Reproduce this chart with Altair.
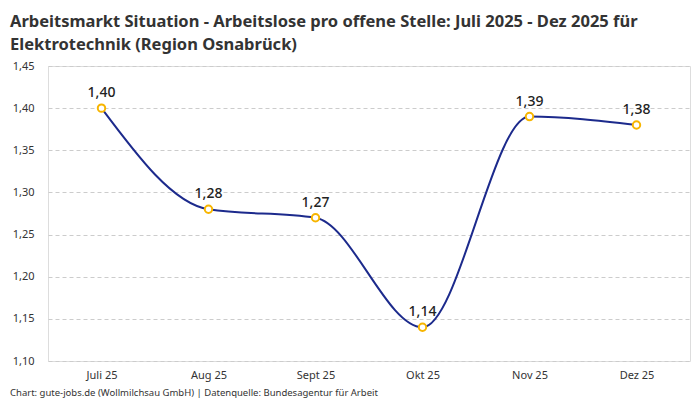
import altair as alt
import pandas as pd

months = ["Juli 25", "Aug 25", "Sept 25", "Okt 25", "Nov 25", "Dez 25"]
values = [1.40, 1.28, 1.27, 1.14, 1.39, 1.38]
labels = ["1,40", "1,28", "1,27", "1,14", "1,39", "1,38"]

title_line1 = "Arbeitsmarkt Situation - Arbeitslose pro offene Stelle: Juli 2025 - Dez 2025 für"
title_line2 = "Elektrotechnik (Region Osnabrück)"
footer = "Chart: gute-jobs.de (Wollmilchsau GmbH) | Datenquelle: Bundesagentur für Arbeit"

df = pd.DataFrame({"month": months, "value": values, "label": labels})

FONT = "Noto Sans"

x = alt.X(
    "month:N",
    sort=months,
    scale=alt.Scale(paddingInner=0, paddingOuter=0),
    axis=alt.Axis(
        title=None,
        labelAngle=0,
        labelFontSize=11,
        labelColor="#333333",
        labelFont=FONT,
        labelPadding=8,
        domain=False,
        ticks=False,
        grid=False,
    ),
)
y = alt.Y(
    "value:Q",
    scale=alt.Scale(domain=[1.10, 1.45], nice=False, zero=False),
    axis=alt.Axis(
        title=None,
        values=[1.10, 1.15, 1.20, 1.25, 1.30, 1.35, 1.40, 1.45],
        labelExpr="replace(format(datum.value, '.2f'), '.', ',')",
        labelFontSize=11,
        labelColor="#333333",
        labelFont=FONT,
        labelPadding=14,
        domain=False,
        ticks=False,
        grid=True,
        gridColor="#cccccc",
        gridDash=[4, 3],
        gridWidth=1,
    ),
)

base = alt.Chart(df).encode(x=x, y=y)

line = base.mark_line(interpolate="monotone", color="#1c2a8c", strokeWidth=2)
points = base.mark_point(
    shape="circle", size=55, filled=True, fill="white", stroke="#f7b500", strokeWidth=2, opacity=1
)
text = base.mark_text(
    dy=-15, fontSize=14, fontWeight=500, color="#222222", font=FONT
).encode(text="label:N")

title_style = dict(align="left", baseline="alphabetic", fontSize=16.5, fontWeight="bold",
                   color="#333333", font=FONT)
title1 = alt.Chart(pd.DataFrame({"t": [title_line1]})).mark_text(**title_style).encode(
    text="t:N", x=alt.value(-38), y=alt.value(-39))
title2 = alt.Chart(pd.DataFrame({"t": [title_line2]})).mark_text(**title_style).encode(
    text="t:N", x=alt.value(-38), y=alt.value(-16))
foot = alt.Chart(pd.DataFrame({"t": [footer]})).mark_text(
    align="left", baseline="middle", fontSize=9.5, color="#333333", font=FONT
).encode(text="t:N", x=alt.value(-38), y=alt.value(327))

chart = (
    alt.layer(line, points, text, title1, title2, foot)
    .properties(
        width=642,
        height=295,
        autosize=alt.AutoSizeParams(type="none"),
        padding={"left": 40, "top": 58, "right": 2, "bottom": 42},
    )
    .configure_view(stroke=None)
    .configure(background="white")
)

chart.save("out.html", embed_options={"renderer": "svg", "actions": False})
